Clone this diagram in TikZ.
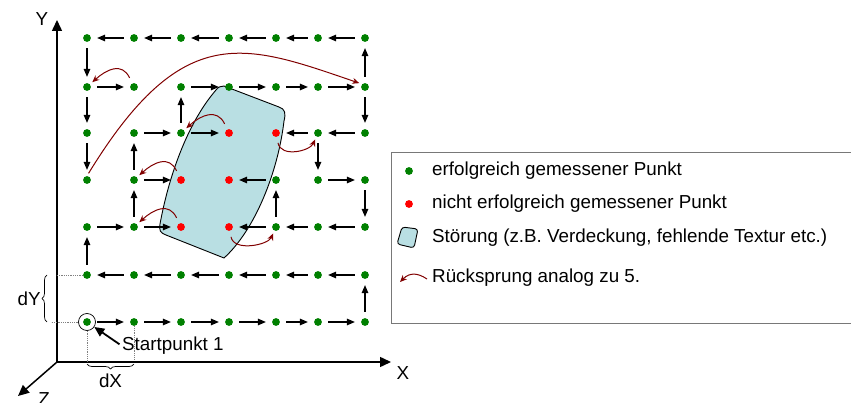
\documentclass[tikz,border=0pt]{standalone}
\usepackage{fontspec}
\setmainfont{Liberation Sans}
\usepackage{tikz}
\usetikzlibrary{arrows.meta, positioning, decorations.pathreplacing}
\definecolor{ptgreen}{RGB}{0,128,0}
\definecolor{ptred}{RGB}{255,0,0}
\definecolor{jumpred}{RGB}{128,0,0}
\definecolor{blobfill}{RGB}{185,223,227}
\definecolor{framegray}{RGB}{120,120,120}

\tikzset{
  dot/.style={circle, inner sep=0pt, minimum size=7.8pt},
  move/.style={-{Triangle[length=8pt,width=6.5pt]}, line width=1.2pt,
               shorten <=6pt, shorten >=6pt},
  jump/.style={-{Stealth[length=7pt,width=6pt]}, jumpred, line width=1pt,
               shorten <=6pt, shorten >=3pt},
  axis/.style={-{Triangle[length=11pt,width=10pt]}, line width=1.5pt},
  guide/.style={densely dotted, gray, line width=0.8pt},
  brace/.style={decorate, decoration={brace, amplitude=5pt}, line width=0.7pt},
  label/.style={inner sep=0pt, font=\fontsize{18.8}{22}\selectfont}
}

\begin{document}
\begin{tikzpicture}[x=1pt, y=-1pt]
  \useasboundingbox (0,0) rectangle (851,403);

  % axes
  \coordinate (origin) at (57,362);
  \coordinate (ytip) at (57,20);
  \coordinate (xtip) at (391,362);
  \coordinate (ztip) at (18,396);
  \draw[axis] (origin) -- (ytip);
  \draw[axis] (origin) -- (xtip);
  \draw[axis] (origin) -- (ztip);
  \node[label] (ylab) at (42,19) {Y};
  \node[label] (xlab) at (403,373) {X};
  \node[label] (zlab) at (44,399) {Z};

  % disturbance
  \draw[fill=blobfill, line width=0.9pt]
    (224,86) -- (279,107) .. controls (285,109) and (286,113) .. (284,121)
    .. controls (278,172) and (255,230) .. (224,258) -- (166,235)
    .. controls (160,233) and (159,230) .. (160,224)
    .. controls (170,170) and (190,120) .. (216,90)
    .. controls (218,87) and (221,86) .. (224,86) -- cycle;

  % measuring grid
  \foreach \c/\x in {0/87,1/134,2/181,3/229,4/276,5/318,6/365} {
    \foreach \r/\y in {0/322,1/275,2/227,3/180,4/133,5/87,6/38} {
      \pgfmathtruncatemacro\isred{((\r==2||\r==3)&&(\c==2||\c==3))||(\r==4&&(\c==3||\c==4))}
      \ifnum\isred=1 \def\dotcol{ptred}\else\def\dotcol{ptgreen}\fi
      \node[dot, fill=\dotcol] (p\c\r) at (\x,\y) {};
    }
  }

  % path of the sensor
  \foreach \a/\b in {00/10, 10/20, 20/30, 30/40, 40/50, 50/60, 60/61,
                     61/51, 51/41, 41/31, 31/21, 21/11, 11/01, 01/02,
                     02/12, 12/22, 12/13, 13/23, 13/14, 14/24, 24/34,
                     24/25, 25/35, 35/45, 45/55, 55/65, 65/66, 65/64,
                     66/56, 56/46, 46/36, 36/26, 26/16, 16/06, 06/05,
                     05/15, 05/04, 04/03, 64/54, 54/44, 54/53, 53/63,
                     43/33, 63/62, 62/52, 52/42, 42/32, 42/43}
    \draw[move] (p\a) -- (p\b);

  % jumps back
  \foreach \a/\b in {15/05, 34/24, 23/13, 22/12}
    \draw[jump] (p\a) .. controls +(-12,-25) and +(20,-18) .. (p\b);
  \foreach \a/\b in {44/54, 32/42}
    \draw[jump] (p\a) .. controls +(5,25) and +(-8,18) .. (p\b);
  \draw[jump, shorten <=3pt] (p03.north) .. controls (183,19) and (245,44) .. (p65.north west);

  % start point and spacing
  \node[draw, circle, inner sep=0pt, minimum size=17pt, line width=0.7pt] (startring) at (p00) {};
  \node[label, anchor=west] (startlab) at (122,346) {Startpunkt 1};
  \draw[-{Triangle[length=10pt,width=9pt]}, line width=1.8pt, shorten <=3pt] (startlab.west) -- (startring);
  \draw[guide] (startring.west) -- +(-27,0);
  \draw[guide] (p01.west) -- +(-27,0);
  \draw[guide] (startring.south) -- +(0,32);
  \draw[guide] (p10.south) -- +(0,34);
  \draw[brace] (47,322) -- (47,275) node[label, midway, left=6pt] (dylab) {dY};
  \draw[brace] (134,364) -- (87,364) node[label, midway, below=10pt] (dxlab) {dX};

  % legend
  \draw[framegray, line width=1pt] (855,153) -- (391,153) -- (391,323) -- (855,323);
  \node[dot, fill=ptgreen] (leggreen) at (409,171) {};
  \node[label, anchor=west] at (432,171) {erfolgreich gemessener Punkt};
  \node[dot, fill=ptred] (legred) at (409,204) {};
  \node[label, anchor=west] at (432,204) {nicht erfolgreich gemessener Punkt};
  \draw[fill=blobfill, line width=0.9pt, rounded corners=3pt]
    (402,227) -- (418,229) -- (414,248) -- (397,244) -- cycle;
  \node[label, anchor=west] at (432,238) {Störung (z.B. Verdeckung, fehlende Textur etc.)};
  \draw[-{Stealth[length=7pt,width=6pt]}, jumpred, line width=1pt]
    (427,279) .. controls (418,273) and (410,272) .. (400,282);
  \node[label, anchor=west] at (432,278) {Rücksprung analog zu 5.};
\end{tikzpicture}
\end{document}
